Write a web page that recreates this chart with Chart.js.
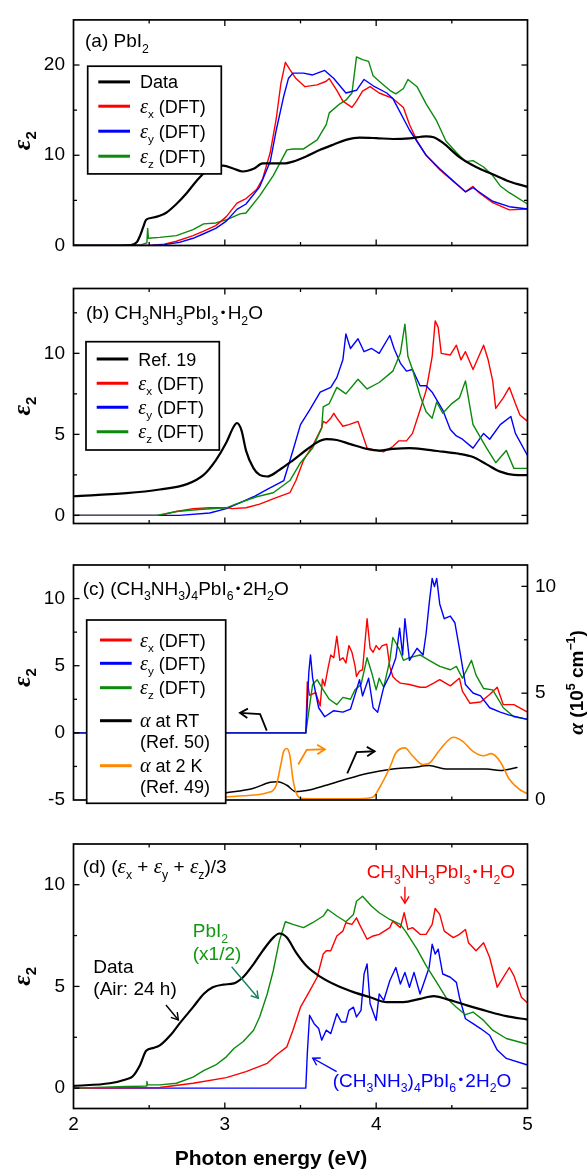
<!DOCTYPE html>
<html><head><meta charset="utf-8">
<script src="https://cdn.jsdelivr.net/npm/chart.js@4.4.1/dist/chart.umd.min.js"></script>
<style>
html,body{margin:0;padding:0;background:#fff;}
#wrap{position:relative;width:588px;height:1176px;overflow:hidden;background:#fff;}
canvas{position:absolute;left:0;top:0;}
</style></head><body><div id="wrap">
<canvas id="pa" width="588" height="1176"></canvas>
<canvas id="pb" width="588" height="1176"></canvas>
<canvas id="pc" width="588" height="1176"></canvas>
<canvas id="pd" width="588" height="1176"></canvas>
</div>
<script>
// ---------- axes / ticks ----------
const X_MIN = 2, X_MAX = 5;
const xTickVals = [2, 3, 4, 5];
const xTickLabels = ['2', '3', '4', '5'];
const xMinorTicks = [2.5, 3.5, 4.5];

const aYTicks = [0, 10, 20], aYTickLabels = ['0', '10', '20'], aYMinor = [5, 15];
const bYTicks = [0, 5, 10], bYTickLabels = ['0', '5', '10'], bYMinor = [2.5, 7.5, 12.5];
const cYTicks = [-5, 0, 5, 10], cYTickLabels = ['-5', '0', '5', '10'], cYMinor = [-2.5, 2.5, 7.5];
const cRTicks = [0, 5, 10], cRTickLabels = ['0', '5', '10'], cRMinor = [2.5, 7.5];
const dYTicks = [0, 5, 10], dYTickLabels = ['0', '5', '10'], dYMinor = [2.5, 7.5];

// ---------- panel (a) PbI2 ----------
const aDataX = [2.0, 2.3, 2.38, 2.42, 2.44, 2.46, 2.48, 2.52, 2.57, 2.61, 2.68, 2.75, 2.81, 2.88, 2.94, 2.99, 3.06, 3.12, 3.19, 3.25, 3.32, 3.39, 3.45, 3.54, 3.63, 3.72, 3.80, 3.89, 4.0, 4.11, 4.22, 4.33, 4.38, 4.44, 4.55, 4.66, 4.77, 4.88, 5.0];
const aDataY = [0, 0, 0.05, 0.4, 1.1, 2.0, 2.85, 3.07, 3.3, 3.6, 4.6, 5.85, 7.1, 8.3, 8.8, 8.86, 8.5, 8.2, 8.5, 9.1, 9.1, 9.1, 9.3, 9.9, 10.6, 11.2, 11.7, 11.96, 11.9, 11.8, 11.87, 12.1, 12.0, 11.4, 9.8, 8.7, 7.9, 7.1, 6.5];
const aExX = [2.0, 2.5, 2.6, 2.68, 2.79, 2.86, 2.94, 3.01, 3.08, 3.14, 3.21, 3.25, 3.30, 3.34, 3.37, 3.40, 3.43, 3.47, 3.53, 3.61, 3.67, 3.69, 3.74, 3.78, 3.84, 3.87, 3.91, 3.96, 4.02, 4.11, 4.18, 4.22, 4.27, 4.33, 4.42, 4.51, 4.59, 4.64, 4.68, 4.77, 4.88, 5.0];
const aExY = [0, 0, 0.15, 0.47, 1.1, 1.6, 2.2, 3.2, 4.7, 5.2, 6.2, 7.4, 10.3, 14.1, 17.9, 20.3, 19.5, 18.5, 17.6, 17.8, 18.2, 18.5, 17.2, 16.0, 15.3, 16.0, 17.1, 17.6, 16.9, 16.3, 15.3, 13.4, 11.6, 10.0, 8.4, 7.1, 5.95, 6.55, 5.85, 4.75, 3.95, 4.05];
const aEyX = [2.0, 2.5, 2.6, 2.7, 2.79, 2.86, 2.94, 3.01, 3.08, 3.14, 3.23, 3.30, 3.34, 3.39, 3.42, 3.45, 3.52, 3.58, 3.66, 3.72, 3.80, 3.87, 3.92, 3.98, 4.07, 4.11, 4.22, 4.33, 4.42, 4.59, 4.64, 4.77, 4.88, 5.0];
const aEyY = [0, 0, 0.1, 0.35, 0.8, 1.3, 1.9, 2.7, 4.0, 4.6, 6.5, 9.3, 12.8, 16.6, 18.5, 19.1, 19.1, 18.9, 19.4, 18.5, 16.9, 17.2, 18.4, 17.7, 16.9, 16.3, 12.8, 10.0, 8.5, 5.95, 6.4, 4.9, 4.3, 4.05];
const aEzX = [2.0, 2.3, 2.45, 2.485, 2.49, 2.495, 2.57, 2.68, 2.79, 2.86, 2.94, 3.01, 3.10, 3.14, 3.23, 3.32, 3.41, 3.45, 3.52, 3.61, 3.67, 3.69, 3.76, 3.80, 3.84, 3.87, 3.91, 3.95, 3.98, 4.02, 4.09, 4.13, 4.18, 4.21, 4.27, 4.33, 4.40, 4.46, 4.53, 4.59, 4.64, 4.71, 4.77, 4.82, 4.88, 5.0];
const aEzY = [0, 0.02, 0.1, 0.3, 1.9, 0.8, 0.9, 1.1, 1.75, 2.4, 2.5, 2.85, 3.5, 3.6, 5.5, 7.75, 10.6, 10.7, 10.7, 11.7, 13.4, 14.7, 15.7, 16.1, 16.9, 20.9, 20.6, 20.4, 18.8, 18.2, 17.2, 16.8, 17.4, 18.4, 17.6, 15.7, 13.8, 11.6, 10.3, 9.3, 9.4, 8.7, 7.75, 6.6, 5.85, 4.6];

// ---------- panel (b) CH3NH3PbI3·H2O ----------
const bRefX = [2.0, 2.35, 2.57, 2.75, 2.86, 2.94, 3.01, 3.06, 3.08, 3.11, 3.14, 3.19, 3.23, 3.28, 3.36, 3.45, 3.54, 3.63, 3.67, 3.74, 3.83, 3.94, 4.02, 4.11, 4.22, 4.33, 4.44, 4.55, 4.64, 4.73, 4.82, 4.91, 5.0];
const bRefY = [1.18, 1.37, 1.6, 1.93, 2.5, 3.4, 4.5, 5.5, 5.7, 5.25, 4.0, 2.9, 2.5, 2.4, 2.8, 3.4, 4.05, 4.6, 4.7, 4.65, 4.4, 4.1, 4.0, 4.1, 4.15, 4.06, 3.93, 3.8, 3.6, 3.15, 2.7, 2.5, 2.48];
const bExX = [2.0, 2.57, 2.68, 2.79, 2.90, 3.02, 3.05, 3.14, 3.23, 3.34, 3.43, 3.47, 3.52, 3.58, 3.64, 3.65, 3.67, 3.70, 3.72, 3.74, 3.78, 3.82, 3.88, 3.90, 3.94, 3.98, 4.05, 4.11, 4.15, 4.20, 4.24, 4.29, 4.33, 4.37, 4.39, 4.41, 4.43, 4.49, 4.53, 4.56, 4.59, 4.64, 4.71, 4.74, 4.77, 4.79, 4.84, 4.88, 4.92, 4.95, 5.0];
const bExY = [0, 0, 0.24, 0.42, 0.47, 0.47, 0.42, 0.47, 0.7, 1.1, 1.4, 2.15, 3.4, 4.3, 5.4, 5.8, 5.7, 6.0, 6.3, 6.0, 5.5, 5.6, 5.8, 5.25, 4.15, 4.06, 3.93, 4.25, 4.6, 4.6, 5.06, 6.5, 7.7, 9.8, 12.0, 11.6, 10.0, 9.9, 10.5, 9.6, 10.1, 9.0, 10.5, 9.6, 8.3, 6.6, 7.25, 7.9, 6.9, 6.2, 5.8];
const bEyX = [2.0, 2.7, 2.90, 3.01, 3.08, 3.19, 3.28, 3.39, 3.45, 3.50, 3.56, 3.63, 3.70, 3.74, 3.78, 3.80, 3.83, 3.88, 3.92, 3.97, 4.02, 4.09, 4.12, 4.16, 4.20, 4.24, 4.29, 4.33, 4.37, 4.44, 4.49, 4.53, 4.57, 4.64, 4.71, 4.75, 4.82, 4.89, 4.92, 5.0];
const bEyY = [0, 0, 0.15, 0.42, 0.7, 1.15, 1.6, 2.15, 4.0, 5.6, 6.5, 7.6, 7.9, 8.5, 9.6, 11.2, 10.3, 10.9, 10.1, 10.3, 10.0, 11.1, 10.25, 9.4, 8.9, 9.0, 8.0, 8.0, 7.6, 6.5, 5.3, 4.9, 4.7, 4.15, 5.06, 4.7, 5.6, 6.1, 5.06, 3.7];
const bEzX = [2.0, 2.55, 2.68, 2.83, 3.01, 3.08, 3.21, 3.32, 3.43, 3.50, 3.58, 3.64, 3.65, 3.69, 3.74, 3.80, 3.88, 3.94, 4.02, 4.11, 4.16, 4.19, 4.21, 4.24, 4.29, 4.33, 4.37, 4.40, 4.44, 4.50, 4.55, 4.59, 4.64, 4.73, 4.79, 4.86, 4.91, 5.0];
const bEzY = [0, 0, 0.24, 0.36, 0.47, 0.73, 1.15, 1.4, 2.15, 3.25, 4.15, 5.4, 6.7, 6.9, 7.9, 7.5, 8.4, 7.8, 8.2, 8.9, 10.0, 11.8, 9.8, 9.0, 7.4, 6.4, 6.0, 7.0, 6.3, 6.9, 7.25, 8.3, 5.6, 4.15, 3.25, 4.0, 2.9, 2.9];

// ---------- panel (c) (CH3NH3)4PbI6·2H2O ----------
const cExX = [2.0, 3.535, 3.545, 3.56, 3.60, 3.63, 3.645, 3.66, 3.68, 3.70, 3.72, 3.74, 3.76, 3.78, 3.80, 3.82, 3.84, 3.86, 3.87, 3.89, 3.91, 3.94, 3.96, 3.98, 4.00, 4.02, 4.04, 4.07, 4.09, 4.11, 4.13, 4.16, 4.22, 4.29, 4.33, 4.38, 4.42, 4.49, 4.55, 4.57, 4.62, 4.69, 4.75, 4.80, 4.84, 4.91, 5.0];
const cExY = [0, 0, 3.8, 2.8, 3.0, 2.0, 4.0, 3.5, 4.7, 5.8, 5.6, 7.2, 5.4, 5.6, 5.2, 6.5, 6.0, 5.0, 4.2, 4.6, 4.7, 8.5, 6.3, 6.0, 6.5, 6.2, 6.5, 6.6, 4.95, 4.2, 3.96, 3.7, 3.6, 3.4, 3.4, 3.7, 3.96, 3.5, 4.07, 3.1, 2.2, 2.3, 2.86, 3.4, 2.1, 2.1, 1.54];
const cEyX = [2.0, 3.535, 3.54, 3.555, 3.566, 3.58, 3.62, 3.66, 3.72, 3.78, 3.83, 3.87, 3.89, 3.91, 3.95, 3.98, 4.01, 4.05, 4.09, 4.13, 4.155, 4.175, 4.19, 4.22, 4.27, 4.31, 4.33, 4.35, 4.37, 4.385, 4.40, 4.42, 4.45, 4.49, 4.52, 4.55, 4.59, 4.64, 4.69, 4.75, 4.82, 4.88, 5.0];
const cEyY = [0, 0, 1.0, 4.5, 5.8, 4.1, 1.87, 1.2, 1.65, 1.54, 1.76, 3.2, 3.96, 2.75, 4.07, 1.87, 1.54, 3.4, 4.3, 5.6, 7.8, 5.8, 8.5, 5.4, 6.3, 5.8, 7.4, 9.6, 11.5, 10.9, 11.5, 9.6, 8.5, 8.7, 8.2, 6.3, 3.6, 2.97, 2.75, 1.87, 1.54, 1.32, 1.0];
const cEzX = [2.0, 3.535, 3.58, 3.61, 3.65, 3.69, 3.74, 3.78, 3.83, 3.86, 3.90, 3.94, 3.97, 4.00, 4.02, 4.05, 4.09, 4.11, 4.15, 4.18, 4.22, 4.29, 4.35, 4.42, 4.49, 4.53, 4.57, 4.63, 4.66, 4.71, 4.77, 4.84, 4.91, 5.0];
const cEzY = [0, 0, 3.6, 3.96, 3.2, 2.5, 2.1, 2.64, 2.5, 3.2, 3.6, 5.6, 4.5, 3.2, 4.07, 3.4, 5.4, 7.1, 6.3, 5.4, 5.6, 5.8, 5.4, 4.95, 4.7, 4.95, 4.07, 5.4, 4.3, 3.3, 3.2, 1.87, 1.2, 1.0];
// absorption coefficient (right axis, 10^5 cm^-1)
const cRtX = [2.6, 2.79, 3.01, 3.19, 3.30, 3.35, 3.41, 3.47, 3.54, 3.67, 3.80, 3.94, 4.11, 4.24, 4.35, 4.46, 4.60, 4.73, 4.82, 4.93];
const cRtY = [0.02, 0.14, 0.34, 0.55, 0.83, 0.86, 0.69, 0.39, 0.44, 0.69, 0.97, 1.24, 1.45, 1.52, 1.61, 1.45, 1.45, 1.45, 1.38, 1.52];
const c2kX = [2.5, 2.79, 3.12, 3.28, 3.34, 3.37, 3.39, 3.41, 3.43, 3.45, 3.48, 3.51, 3.67, 3.89, 3.98, 4.02, 4.09, 4.13, 4.19, 4.24, 4.31, 4.35, 4.42, 4.51, 4.57, 4.64, 4.71, 4.76, 4.82, 4.88, 4.95, 5.0];
const c2kY = [0.03, 0.07, 0.2, 0.34, 0.69, 1.66, 2.3, 2.41, 2.07, 0.97, 0.2, 0.07, 0.06, 0.06, 0.14, 0.55, 1.52, 2.2, 2.44, 2.07, 1.66, 1.72, 2.34, 2.94, 2.76, 2.28, 2.07, 2.17, 1.79, 0.97, 0.48, 0.3];

// ---------- panel (d) (εx+εy+εz)/3 ----------
const dDataX = [2.0, 2.24, 2.35, 2.39, 2.44, 2.48, 2.53, 2.57, 2.64, 2.70, 2.79, 2.86, 2.92, 2.99, 3.06, 3.12, 3.19, 3.25, 3.32, 3.36, 3.41, 3.47, 3.54, 3.63, 3.74, 3.85, 3.96, 4.07, 4.18, 4.29, 4.38, 4.46, 4.60, 4.73, 4.86, 5.0];
const dDataY = [0.11, 0.24, 0.44, 0.57, 1.14, 1.84, 1.98, 2.1, 2.6, 3.17, 3.98, 4.63, 4.96, 5.09, 5.15, 5.45, 6.1, 6.75, 7.4, 7.6, 7.4, 6.67, 6.0, 5.48, 5.04, 4.72, 4.47, 4.23, 4.23, 4.39, 4.52, 4.39, 4.07, 3.79, 3.54, 3.37];
const dPbX = [2.0, 2.35, 2.48, 2.485, 2.49, 2.57, 2.68, 2.79, 2.86, 2.94, 3.01, 3.06, 3.12, 3.19, 3.23, 3.28, 3.32, 3.36, 3.40, 3.45, 3.52, 3.58, 3.65, 3.68, 3.74, 3.80, 3.85, 3.87, 3.91, 3.97, 4.02, 4.09, 4.16, 4.20, 4.27, 4.33, 4.40, 4.46, 4.53, 4.59, 4.64, 4.71, 4.77, 4.86, 5.0];
const dPbY = [0, 0.08, 0.1, 0.33, 0.16, 0.16, 0.24, 0.54, 0.86, 1.14, 1.54, 1.95, 2.28, 2.85, 3.5, 4.63, 5.77, 7.24, 8.18, 8.05, 7.89, 8.13, 8.46, 8.78, 8.46, 8.18, 8.54, 9.19, 9.43, 8.94, 8.62, 8.29, 8.05, 7.64, 6.83, 6.02, 5.2, 4.47, 3.98, 3.61, 3.74, 3.33, 2.85, 2.44, 2.16];
const dMaX = [2.0, 2.57, 2.79, 3.01, 3.14, 3.28, 3.34, 3.41, 3.45, 3.50, 3.55, 3.61, 3.65, 3.67, 3.70, 3.74, 3.78, 3.80, 3.84, 3.87, 3.89, 3.94, 3.98, 4.02, 4.09, 4.11, 4.16, 4.185, 4.21, 4.24, 4.29, 4.33, 4.37, 4.39, 4.42, 4.45, 4.51, 4.55, 4.59, 4.61, 4.66, 4.71, 4.75, 4.80, 4.84, 4.88, 4.91, 4.96, 5.0];
const dMaY = [0, 0.03, 0.24, 0.52, 0.81, 1.22, 1.63, 2.03, 2.85, 3.98, 4.63, 5.45, 6.59, 6.75, 6.75, 7.48, 7.72, 8.13, 8.05, 8.37, 8.05, 7.32, 7.48, 7.56, 7.89, 8.21, 7.89, 8.62, 7.8, 7.89, 7.56, 7.56, 8.05, 8.83, 8.54, 7.72, 7.4, 7.56, 7.8, 7.15, 6.75, 7.15, 6.42, 4.96, 5.45, 5.93, 5.53, 4.47, 4.18];
const dMhX = [2.0, 3.535, 3.545, 3.56, 3.59, 3.62, 3.64, 3.67, 3.70, 3.74, 3.77, 3.80, 3.82, 3.85, 3.87, 3.90, 3.92, 3.94, 3.96, 4.00, 4.02, 4.05, 4.09, 4.13, 4.16, 4.19, 4.22, 4.25, 4.29, 4.32, 4.35, 4.37, 4.39, 4.41, 4.44, 4.49, 4.53, 4.55, 4.59, 4.64, 4.69, 4.75, 4.80, 4.86, 5.0];
const dMhY = [0, 0, 1.7, 3.58, 3.17, 2.93, 2.36, 2.85, 2.68, 3.66, 3.25, 3.25, 3.82, 3.98, 3.5, 3.82, 5.61, 6.1, 4.15, 3.33, 4.63, 4.31, 5.28, 5.93, 5.12, 5.69, 4.96, 5.69, 4.63, 5.28, 5.93, 7.07, 6.59, 6.83, 5.61, 5.45, 5.2, 4.47, 3.41, 3.17, 2.93, 2.6, 1.87, 1.46, 1.14];

// ---------- annotations (data coordinates) ----------
const cArrows = [
  {color: '#000000', pts: [[3.277, 0.17], [3.233, 1.39], [3.10, 1.49]]},
  {color: '#ff8800', pts: [[3.485, -2.36], [3.541, -1.26], [3.661, -1.22]]},
  {color: '#000000', pts: [[3.809, -3.02], [3.871, -1.43], [3.99, -1.37]]}
];
const dArrows = [
  {color: '#000000', pts: [[2.611, 4.09], [2.693, 3.35]]},
  {color: '#1a8060', pts: [[3.045, 5.97], [3.221, 4.42]]},
  {color: '#ff0000', pts: [[4.19, 9.90], [4.19, 9.09]]},
  {color: '#0000ff', pts: [[3.739, 0.81], [3.581, 1.47]]}
];
const dTexts = [
  {t: 'CH_{3}NH_{3}PbI_{3}•H_{2}O', color: '#ff0000', at: [3.937, 10.31]},
  {t: 'PbI_{2}', color: '#119911', at: [2.788, 7.41]},
  {t: '(x1/2)', color: '#119911', at: [2.788, 6.30]},
  {t: 'Data', color: '#000000', at: [2.131, 5.67]},
  {t: '(Air: 24 h)', color: '#000000', at: [2.131, 4.58]},
  {t: '(CH_{3}NH_{3})_{4}PbI_{6}•2H_{2}O', color: '#0000ff', at: [3.713, 0.07]}
];

// ---------- helpers ----------
const SANS = '"Liberation Sans", Arial, sans-serif';
const SERIF = '"Liberation Serif", "Times New Roman", serif';
const RED = '#ff0000', BLUE = '#0000ff', GREEN = '#0b8a0b', ORANGE = '#ff8800', BLACK = '#000000';
const PL = 73.5, PR = 527.5, W = 588, H = 1176;
const MAJ = 6, MIN = 3.5;

function pts(xs, ys) { return xs.map((x, i) => ({x: x, y: ys[i]})); }
function ds(label, xs, ys, color, width, extra) {
  return Object.assign({label: label, data: pts(xs, ys), borderColor: color, backgroundColor: color,
    borderWidth: width, pointRadius: 0, fill: false, tension: 0}, extra || {});
}
const SMOOTH = {cubicInterpolationMode: 'monotone'};

function parseRich(s) {
  const out = []; let buf = ''; let i = 0;
  const flush = () => { if (buf) { out.push({t: buf}); buf = ''; } };
  while (i < s.length) {
    const c = s[i];
    if ((c === '_' || c === '^') && s[i + 1] === '{') {
      flush(); const j = s.indexOf('}', i);
      out.push({t: s.slice(i + 2, j), sub: c === '_', sup: c === '^'}); i = j + 1; continue;
    }
    if (c === 'ε' || c === 'α') { flush(); out.push({t: c, g: true}); i++; continue; }
    if (c === '•') { flush(); out.push({t: c, dot: true}); i++; continue; }
    buf += c; i++;
  }
  flush(); return out;
}
function partFont(p, size, bold) {
  let sz = size;
  if (p.sub || p.sup) sz = size * 0.65;
  if (p.dot) sz = size * 0.7;
  if (p.g) return 'italic ' + (bold ? 'bold ' : '') + (sz * 1.12).toFixed(1) + 'px ' + SERIF;
  return (bold ? 'bold ' : '') + sz.toFixed(1) + 'px ' + SANS;
}
function drawRich(ctx, x, y, str, size, color, opt) {
  opt = opt || {};
  const parts = parseRich(str);
  let total = 0;
  const items = parts.map(p => {
    const f = partFont(p, size, opt.bold); ctx.font = f;
    let w = ctx.measureText(p.t).width;
    const pad = p.dot ? size * 0.12 : 0;
    total += w + 2 * pad;
    return {p, f, w, pad};
  });
  let cx = opt.align === 'center' ? x - total / 2 : (opt.align === 'right' ? x - total : x);
  ctx.fillStyle = color; ctx.textAlign = 'left'; ctx.textBaseline = 'alphabetic';
  items.forEach(it => {
    ctx.font = it.f;
    const p = it.p;
    const dy = p.sub ? size * 0.28 : (p.sup ? -size * 0.42 : (p.dot ? -size * 0.12 : 0));
    ctx.fillText(p.t, cx + it.pad, y + dy);
    cx += it.w + 2 * it.pad;
  });
  return total;
}
function seg(ctx, x1, y1, x2, y2) { ctx.beginPath(); ctx.moveTo(x1, y1); ctx.lineTo(x2, y2); ctx.stroke(); }

function drawFrameTicks(ch, cfg) {
  const {ctx, chartArea: ca, scales} = ch;
  ctx.save();
  ctx.strokeStyle = '#000'; ctx.lineWidth = 1.3;
  const xs = scales.x;
  const xt = (vals, len) => vals.forEach(v => {
    if (v <= xs.min || v >= xs.max) return;
    const p = xs.getPixelForValue(v);
    seg(ctx, p, ca.bottom, p, ca.bottom - len); seg(ctx, p, ca.top, p, ca.top + len);
  });
  xt(xTickVals, MAJ); xt(xMinorTicks, MIN);
  const yl = (sc, vals, len, side) => vals.forEach(v => {
    if (v <= sc.min || v >= sc.max) return;
    const p = sc.getPixelForValue(v);
    if (side !== 'right') seg(ctx, ca.left, p, ca.left + len, p);
    if (side !== 'left') seg(ctx, ca.right, p, ca.right - len, p);
  });
  if (scales.yR) {
    yl(scales.y, cfg.yMajor, MAJ, 'left'); yl(scales.y, cfg.yMinor, MIN, 'left');
    yl(scales.yR, cfg.rMajor, MAJ, 'right'); yl(scales.yR, cfg.rMinor, MIN, 'right');
  } else {
    yl(scales.y, cfg.yMajor, MAJ, 'both'); yl(scales.y, cfg.yMinor, MIN, 'both');
  }
  ctx.lineWidth = 1.7;
  ctx.strokeRect(ca.left, ca.top, ca.right - ca.left, ca.bottom - ca.top);
  ctx.restore();
}
function drawArrow(ctx, pp, color, lw, head) {
  ctx.save(); ctx.strokeStyle = color; ctx.lineWidth = lw; ctx.lineJoin = 'miter'; ctx.lineCap = 'butt';
  ctx.beginPath(); ctx.moveTo(pp[0][0], pp[0][1]);
  for (let i = 1; i < pp.length; i++) ctx.lineTo(pp[i][0], pp[i][1]);
  ctx.stroke();
  const n = pp.length, tip = pp[n - 1], prev = pp[n - 2];
  const ang = Math.atan2(tip[1] - prev[1], tip[0] - prev[0]);
  const a = 0.55;
  ctx.beginPath();
  ctx.moveTo(tip[0] - head * Math.cos(ang - a), tip[1] - head * Math.sin(ang - a));
  ctx.lineTo(tip[0], tip[1]);
  ctx.lineTo(tip[0] - head * Math.cos(ang + a), tip[1] - head * Math.sin(ang + a));
  ctx.stroke();
  ctx.restore();
}

function decorate(ch, cfg) {
  const {ctx, chartArea: ca, scales} = ch;
  drawFrameTicks(ch, cfg);
  const toPx = (p) => [scales.x.getPixelForValue(p[0]), scales.y.getPixelForValue(p[1])];
  ctx.save();
  // annotations
  (cfg.arrows || []).forEach(a => drawArrow(ctx, a.pts.map(toPx), a.color, a.lw || 1.5, a.head || 8));
  (cfg.texts || []).forEach(t => { const p = toPx(t.at); drawRich(ctx, p[0], p[1], t.t, 19, t.color); });
  // panel title
  drawRich(ctx, ca.left + cfg.title.dx, ca.top + cfg.title.dy, cfg.title.text, 19, '#000');
  // legend
  if (cfg.legend) {
    const L = cfg.legend;
    ctx.fillStyle = '#fff';
    ctx.fillRect(ca.left + L.box[0], ca.top + L.box[1], L.box[2] - L.box[0], L.box[3] - L.box[1]);
    ctx.strokeStyle = '#000'; ctx.lineWidth = 1.7;
    ctx.strokeRect(ca.left + L.box[0], ca.top + L.box[1], L.box[2] - L.box[0], L.box[3] - L.box[1]);
    ch.data.datasets.forEach((d, i) => {
      const ry = ca.top + L.rows[i];
      ctx.strokeStyle = d.borderColor; ctx.lineWidth = 3;
      seg(ctx, ca.left + L.sx[0], ry, ca.left + L.sx[1], ry);
      d.label.split('\n').forEach((line, k) => drawRich(ctx, ca.left + L.tx, ry + 6.5 + k * 21, line, 18, '#000'));
    });
  }
  ctx.restore();
  // left axis title
  ctx.save();
  ctx.translate(22.5, (ca.top + ca.bottom) / 2 + (cfg.yTitleDy || 0));
  ctx.rotate(-Math.PI / 2);
  drawRich(ctx, 0, 7, 'ε_{2}', 23, '#000', {bold: true, align: 'center'});
  ctx.restore();
  if (cfg.rTitle) {
    ctx.save();
    ctx.translate(576, (ca.top + ca.bottom) / 2);
    ctx.rotate(-Math.PI / 2);
    drawRich(ctx, 0, 7, cfg.rTitle, 19, '#000', {bold: true, align: 'center'});
    ctx.restore();
  }
  if (cfg.xTitle) {
    ctx.save();
    drawRich(ctx, 271, 1165, cfg.xTitle, 21, '#000', {bold: true, align: 'center'});
    ctx.restore();
  }
}

function xScale(show) {
  return {
    type: 'linear', min: X_MIN, max: X_MAX, display: show,
    afterBuildTicks: s => { s.ticks = xTickVals.map(v => ({value: v})); },
    ticks: {autoSkip: false, maxRotation: 0, padding: 5, color: '#000', font: {family: SANS, size: 19},
      callback: (v, i) => xTickLabels[i]},
    grid: {display: false, drawTicks: false}, border: {display: false},
    afterFit: s => { s.height = 30; }
  };
}
function yScale(min, max, vals, labels, position, width, pad) {
  return {
    type: 'linear', position: position, min: min, max: max,
    afterBuildTicks: s => { s.ticks = vals.map(v => ({value: v})); },
    ticks: {autoSkip: false, padding: pad, color: '#000', font: {family: SANS, size: 19},
      callback: (v, i) => labels[i]},
    grid: {display: false, drawTicks: false}, border: {display: false},
    afterFit: s => { s.width = width; }
  };
}

function makePanel(id, cfg) {
  return new Chart(document.getElementById(id), {
    type: 'line',
    data: {datasets: cfg.datasets},
    options: {
      responsive: false, animation: false, devicePixelRatio: 1, events: [],
      layout: {padding: {left: 0, right: cfg.padRight, top: cfg.top, bottom: cfg.padBottom}},
      scales: cfg.scales,
      plugins: {legend: {display: false}, tooltip: {enabled: false}, title: {display: false}},
      elements: {point: {radius: 0}, line: {borderJoinStyle: 'round', borderCapStyle: 'round'}}
    },
    plugins: [{id: 'deco_' + id, afterDatasetsDraw: ch => decorate(ch, cfg)}]
  });
}

// ---------- panel (a) ----------
makePanel('pa', {
  top: 12, padBottom: H - 275.5, padRight: W - PR,
  scales: {x: xScale(false), y: yScale(0, 25, aYTicks, aYTickLabels, 'left', PL, 8.5)},
  yMajor: aYTicks, yMinor: aYMinor,
  datasets: [
    ds('Data', aDataX, aDataY, BLACK, 2.2, Object.assign({order: 0}, SMOOTH)),
    ds('ε_{x} (DFT)', aExX, aExY, RED, 1.4, {order: 2}),
    ds('ε_{y} (DFT)', aEyX, aEyY, BLUE, 1.4, {order: 1}),
    ds('ε_{z} (DFT)', aEzX, aEzY, GREEN, 1.4, {order: 3})
  ],
  title: {text: '(a) PbI_{2}', dx: 11.5, dy: 27.3},
  legend: {box: [14.2, 46.3, 147.8, 154], rows: [62, 86.3, 111.3, 136.3], sx: [24.8, 56.5], tx: 66.5},
  yTitleDy: 8
});

// ---------- panel (b) ----------
makePanel('pb', {
  top: 288.5, padBottom: H - 553.5, padRight: W - PR,
  scales: {x: xScale(false), y: yScale(-0.5, 14, bYTicks, bYTickLabels, 'left', PL, 8.5)},
  yMajor: bYTicks, yMinor: bYMinor,
  datasets: [
    ds('Ref. 19', bRefX, bRefY, BLACK, 2.2, Object.assign({order: 0}, SMOOTH)),
    ds('ε_{x} (DFT)', bExX, bExY, RED, 1.4, {order: 3}),
    ds('ε_{y} (DFT)', bEyX, bEyY, BLUE, 1.4, {order: 2}),
    ds('ε_{z} (DFT)', bEzX, bEzY, GREEN, 1.4, {order: 1})
  ],
  title: {text: '(b) CH_{3}NH_{3}PbI_{3}•H_{2}O', dx: 12.5, dy: 30.8},
  legend: {box: [12.5, 53.2, 145.8, 161.5], rows: [70.5, 94.8, 118.8, 143.2], sx: [23.2, 54.8], tx: 64.8},
  yTitleDy: 0
});

// ---------- panel (c) ----------
makePanel('pc', {
  top: 565, padBottom: H - 830, padRight: 0,
  scales: {
    x: xScale(false),
    y: yScale(-5, 12.5, cYTicks, cYTickLabels, 'left', PL, 8.5),
    yR: yScale(0, 11, cRTicks, cRTickLabels, 'right', W - PR, 7.5)
  },
  yMajor: cYTicks, yMinor: cYMinor, rMajor: cRTicks, rMinor: cRMinor,
  datasets: [
    ds('ε_{x} (DFT)', cExX, cExY, RED, 1.4, {order: 2}),
    ds('ε_{y} (DFT)', cEyX, cEyY, BLUE, 1.4, {order: 0}),
    ds('ε_{z} (DFT)', cEzX, cEzY, GREEN, 1.4, {order: 1}),
    ds('α at RT\n(Ref. 50)', cRtX, cRtY, BLACK, 1.5, Object.assign({order: 4, yAxisID: 'yR'}, SMOOTH)),
    ds('α at 2 K\n(Ref. 49)', c2kX, c2kY, ORANGE, 1.6, Object.assign({order: 3, yAxisID: 'yR'}, SMOOTH))
  ],
  title: {text: '(c) (CH_{3}NH_{3})_{4}PbI_{6}•2H_{2}O', dx: 9.2, dy: 30},
  legend: {box: [13.2, 55, 152.2, 238.3], rows: [75, 98.3, 122.7, 155.7, 200.7], sx: [26.5, 58.2], tx: 66.5},
  arrows: cArrows.map(a => Object.assign({lw: 1.8, head: 9}, a)),
  rTitle: 'α (10^{5} cm^{−1})',
  yTitleDy: -5
});

// ---------- panel (d) ----------
makePanel('pd', {
  top: 844, padBottom: H - 1108.5 - 30, padRight: W - PR,
  scales: {x: xScale(true), y: yScale(-1, 12, dYTicks, dYTickLabels, 'left', PL, 8.5)},
  yMajor: dYTicks, yMinor: dYMinor,
  datasets: [
    ds('Data (Air: 24 h)', dDataX, dDataY, BLACK, 2.2, Object.assign({order: 0}, SMOOTH)),
    ds('PbI2 (x1/2)', dPbX, dPbY, GREEN, 1.4, {order: 1}),
    ds('CH3NH3PbI3·H2O', dMaX, dMaY, RED, 1.4, {order: 2}),
    ds('(CH3NH3)4PbI6·2H2O', dMhX, dMhY, BLUE, 1.4, {order: 3})
  ],
  title: {text: '(d) (ε_{x} + ε_{y} + ε_{z})/3', dx: 9.2, dy: 29.3},
  arrows: dArrows.map(a => Object.assign({lw: 1.4, head: 8}, a)),
  texts: dTexts,
  xTitle: 'Photon energy (eV)',
  yTitleDy: 0
});
</script>
</body></html>
